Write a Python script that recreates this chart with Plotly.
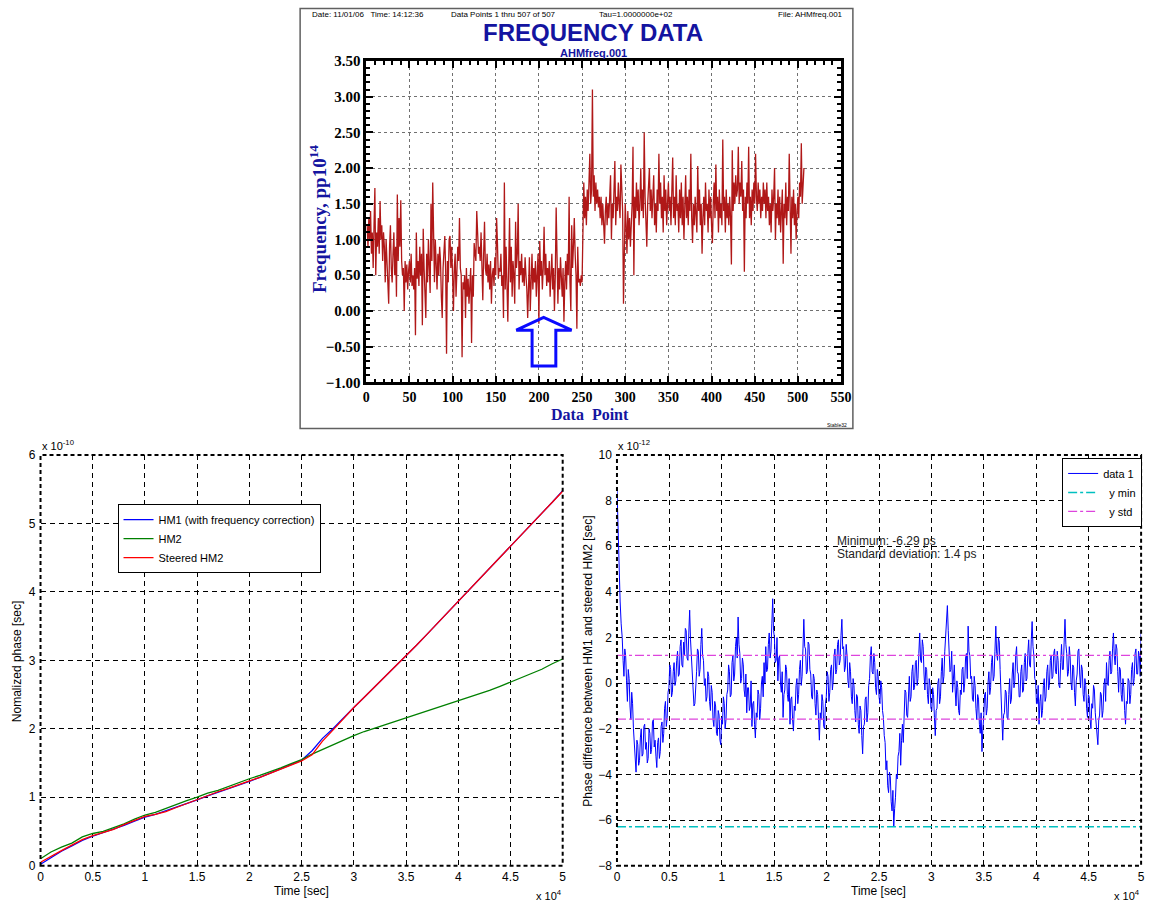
import plotly.graph_objects as go

# ---------------- data ----------------
# Top: Stable32 frequency data (pp10^14), data points 1..507
freq = [
    1.2, 0.9, 1.3, 1.0, 1.4, 0.8, 1.1, 0.6, 1.2, 1.72,
    0.5, 1.1, 0.9, 1.3, 0.8, 1.54, 1.0, 1.2, 0.7, 1.1,
    0.9, 0.4, 1.0, 0.6, 0.3, 0.1, 0.9, 1.2, 0.6, 0.4,
    0.8, 1.1, 0.5, 0.9, 0.2, 1.63, 0.7, 1.3, 0.9, 1.55,
    0.7, 0.5, 0.6, 0.0, 0.7, 0.4, 0.65, 0.3, 0.55, 0.7,
    0.4, 0.8, 0.35, 0.5, 0.3, 0.6, -0.34, 1.1, 0.45, 0.7,
    0.35, 0.9, 0.5, 0.8, -0.2, 1.15, 0.6, 0.3, -0.1, 0.8,
    0.4, 1.0, 0.55, 0.25, 1.5, 0.7, 1.8, 0.9, 0.4, 1.0,
    0.6, 0.3, 0.8, 0.5, 0.9, 0.7, 0.2, -0.1, 0.6, 0.9,
    1.05, 0.55, -0.6, 0.7, 0.4, 1.0, 1.05, 0.6, 0.9, 0.5,
    0.0, 0.6, 0.8, 0.2, 0.5, 0.9, 0.7, 1.3, 0.6, 0.5,
    -0.65, 0.4, 0.3, 0.5, -0.1, 0.6, 0.2, 0.45, 0.1, 0.35,
    0.6, -0.45, 0.5, 0.2, 0.95, 0.8, 0.7, 1.4, 1.0, 0.8,
    0.9, 0.7, 1.1, 0.5, 0.15, 0.8, 1.25, 0.6, 0.5, 0.8,
    0.4, 0.65, 0.3, 0.7, 0.1, 0.5, 0.6, 0.35, 0.75, 0.5,
    1.3, 0.94, 0.45, 0.6, 0.55, 0.8, 0.35, 0.5, -0.1, 1.8,
    0.3, 0.9, 0.5, -0.15, 0.6, 1.3, 0.4, 0.9, 0.2, 0.7,
    0.5, 0.1, 1.25, 0.6, 0.8, 1.5, 0.3, 0.7, 0.5, 0.8,
    0.4, 0.6, 0.35, 0.75, 0.5, 0.3, -0.1, 0.6, 0.75, 0.0,
    0.5, 0.8, 0.3, 0.6, 0.4, 0.7, 0.2, 0.5, 0.8, -0.18,
    0.98, 0.5, 0.7, 0.3, 0.6, 1.18, 0.5, 0.8, 0.35, 0.6,
    0.4, 0.7, 0.2, 0.5, 0.8, 0.3, 0.6, 0.0, 0.5, 1.45,
    0.4, 0.1, 0.6, 0.3, 0.75, 0.5, 0.2, 0.6, -0.15, 0.4,
    0.7, 0.3, 0.8, 0.5, 1.6, 0.4, 0.0, 1.2, 0.6, 0.9,
    1.3, 0.8, 0.5, -0.25, 0.9, 0.4, 0.45, 0.35, 0.5, 0.4,
    1.49, 1.8, 1.3, 1.6, 1.2, 1.7, 1.4, 1.8, 2.2, 1.5,
    1.7, 3.1, 1.6, 1.9, 1.4, 1.8, 1.5, 1.7, 1.45, 1.6,
    1.3, 1.6, 1.2, 1.5, 1.25, 0.94, 1.4, 1.6, 1.2, 1.5,
    1.3, 1.7, 1.9, 1.0, 1.5, 1.3, 1.6, 2.1, 1.2, 1.6,
    1.4, 1.8, 1.5, 1.3, 2.05, 1.6, 1.4, 0.1, 1.3, 1.5,
    1.2, 0.8, 1.4, 1.0, 1.3, 0.9, 1.2, 1.5, 2.3, 0.5,
    1.6, 1.3, 1.8, 1.4, 1.7, 1.2, 1.5, 2.0, 1.4, 1.7,
    1.3, 2.5, 1.6, 1.2, 0.9, 1.5, 1.8, 2.0, 1.4, 1.7,
    1.3, 1.6, 1.9, 1.2, 1.5, 1.1, 1.7, 1.4, 2.2, 1.5,
    1.8, 1.3, 1.6, 1.1, 1.9, 1.4, 1.7, 1.2, 1.5, 1.8,
    1.4, 1.6, 1.2, 1.7, 2.15, 1.3, 1.6, 1.2, 1.9, 1.4,
    1.5, 1.1, 1.7, 1.3, 1.8, 1.2, 1.6, 1.0, 1.5, 1.9,
    1.3, 1.6, 1.2, 1.7, 1.4, 2.2, 1.3, 0.95, 1.5, 1.2,
    1.6, 1.3, 1.1, 2.03, 1.4, 1.7, 1.2, 1.5, 0.8, 1.3,
    1.6, 1.2, 1.8, 1.4, 1.5, 1.1, 1.7, 1.3, 1.6, 1.2,
    0.95, 1.5, 1.8, 1.3, 2.05, 1.4, 1.6, 1.1, 1.7, 1.3,
    1.5, 1.2, 2.4, 1.4, 1.6, 1.1, 1.7, 1.3, 1.5, 1.2,
    1.6, 1.3, 0.65, 2.25, 1.4, 1.8, 1.5, 1.9, 1.6, 1.7,
    2.3, 1.5, 1.8, 1.6, 2.1, 1.4, 1.7, 0.55, 1.6, 1.3,
    1.8, 1.5, 2.3, 1.3, 1.6, 1.2, 1.7, 1.4, 1.8, 1.5,
    2.2, 1.6, 1.4, 1.8, 1.5, 1.7, 1.3, 1.6, 1.4, 1.8,
    1.5, 1.7, 1.3, 1.8, 1.4, 1.6, 1.2, 1.5, 1.1, 1.7,
    1.4, 1.6, 2.0, 1.0, 1.5, 1.3, 1.7, 1.2, 1.6, 1.1,
    1.4, 1.7, 0.66, 1.5, 1.3, 1.8, 1.2, 1.6, 1.4, 2.2,
    1.5, 0.8, 1.6, 1.3, 1.7, 1.2, 1.5, 1.0, 1.4, 1.6,
    1.3, 1.8, 1.6, 2.35, 1.5, 1.9, 2.0,
]
data_point = list(range(1, len(freq) + 1))
top_xticks = [0, 50, 100, 150, 200, 250, 300, 350, 400, 450, 500, 550]
top_yticks = [-1.0, -0.5, 0.0, 0.5, 1.0, 1.5, 2.0, 2.5, 3.0, 3.5]

# Bottom-left: normalized phase (x 1e-10 s) vs time (x 1e4 s)
bl_time = [0.0, 0.1, 0.2, 0.3, 0.4, 0.5, 0.6, 0.7, 0.8, 0.9,
           1.0, 1.1, 1.2, 1.3, 1.4, 1.5, 1.6, 1.7, 1.8, 1.9,
           2.0, 2.1, 2.2, 2.3, 2.4, 2.5, 2.6, 2.7, 2.8, 2.9,
           3.0, 3.1, 3.2, 3.3, 3.4, 3.5, 3.6, 3.7, 3.8, 3.9,
           4.0, 4.1, 4.2, 4.3, 4.4, 4.5, 4.6, 4.7, 4.8, 4.9, 5.0]
hm1 = [0.02, 0.12, 0.21, 0.29, 0.37, 0.43, 0.48, 0.53, 0.59, 0.65,
       0.71, 0.75, 0.80, 0.85, 0.90, 0.96, 1.02, 1.07, 1.12, 1.18,
       1.23, 1.29, 1.35, 1.41, 1.47, 1.54, 1.68, 1.86, 2.00, 2.16,
       2.31, 2.46, 2.61, 2.77, 2.92, 3.07, 3.22, 3.38, 3.54, 3.70,
       3.86, 4.02, 4.18, 4.34, 4.50, 4.66, 4.82, 4.98, 5.14, 5.31, 5.48]
hm2 = [0.10, 0.20, 0.27, 0.33, 0.42, 0.47, 0.50, 0.55, 0.61, 0.68,
       0.74, 0.78, 0.84, 0.89, 0.95, 1.00, 1.06, 1.10, 1.16, 1.22,
       1.27, 1.32, 1.37, 1.43, 1.49, 1.55, 1.63, 1.70, 1.77, 1.84,
       1.90, 1.96, 2.01, 2.06, 2.11, 2.16, 2.21, 2.25, 2.30, 2.35,
       2.40, 2.45, 2.50, 2.56, 2.62, 2.68, 2.74, 2.80, 2.87, 2.95, 3.02]
steered = [0.05, 0.14, 0.22, 0.30, 0.38, 0.44, 0.49, 0.53, 0.60, 0.66,
           0.72, 0.75, 0.79, 0.85, 0.91, 0.97, 1.03, 1.08, 1.13, 1.19,
           1.24, 1.29, 1.35, 1.41, 1.47, 1.53, 1.62, 1.82, 1.98, 2.15,
           2.31, 2.46, 2.61, 2.76, 2.91, 3.06, 3.22, 3.38, 3.54, 3.70,
           3.86, 4.02, 4.18, 4.34, 4.50, 4.66, 4.82, 4.98, 5.14, 5.30, 5.47]

# Bottom-right: phase difference (x 1e-12 s) vs time (x 1e4 s)
br_head_time = [0.0, 0.01, 0.02, 0.03, 0.04]
br_head_val = [8.6, 7.0, 4.5, 3.6, 2.6]
br_step = 0.00825
br_vals = [
    2.0, 1.0, 0.3, 1.5, 1.2, 0.1, -0.8, 0.6, 0.2, -1.0, -1.6, -0.4, -0.9, -2.0, -2.8, -3.4, -3.9, -2.5, -2.7, -3.6,
    -3.4, -2.4, -2.0, -3.2, -3.1, -1.9, -1.8, -2.9, -2.6, -3.5, -3.3, -2.0, -2.2, -3.1, -2.9, -1.7, -1.6, -2.8, -2.5, -3.2,
    -3.7, -2.6, -2.4, -3.3, -3.0, -1.9, -1.7, -2.6, -2.2, -1.1, -0.8, -1.9, -1.5, -0.4, -0.2, 0.8, 0.6, -0.6, -0.4, 0.5,
    0.9, -0.1, 0.1, 1.0, 1.4, 0.3, 0.4, 1.6, 1.9, 0.8, 0.7, 1.8, 1.2, 2.4, 2.3, 1.1, 1.0, 2.2, 3.2, 1.9,
    1.1, 0.2, 0.0, -1.0, -0.9, 0.3, 0.5, 1.5, 1.4, 0.3, 0.6, 1.7, 2.4, 1.2, 1.0, -0.1, 0.2, -0.8, -0.6, 0.5,
    0.3, -0.8, -1.2, -0.1, -0.4, -1.6, -1.9, -0.8, -1.0, -2.2, -2.3, -1.2, -1.4, -2.5, -2.7, -1.5, -1.8, -0.6, -0.9, -2.0,
    -1.6, -0.5, -0.3, 0.8, 0.5, -0.6, -0.5, 0.9, 1.2, 0.1, 0.4, 1.6, 2.0, 1.1, 2.9, 1.7, 1.3, 0.0, 0.2, 1.1,
    0.8, -0.3, -0.6, 0.4, -1.3, -0.2, -0.2, -1.2, -1.0, 0.1, -1.9, -0.9, -0.8, -1.8, -2.4, -1.3, -1.5, -0.3, -0.5, -1.6,
    -1.1, 0.0, 0.3, -0.6, 0.9, 0.0, 1.6, 0.5, 0.6, 1.7, 2.2, 1.1, 1.4, 2.6, 3.7, 2.3, 2.0, 0.9, 1.0, 2.0,
    0.1, 1.1, 1.2, 0.0, -0.4, 0.5, -1.5, -0.5, -0.3, 0.8, 0.6, -0.5, -0.8, 0.2, -1.8, -0.7, -0.6, -1.6, -2.1, -1.0,
    -1.2, -0.1, 0.2, -0.9, -0.5, 0.6, 1.0, -0.1, 0.3, 1.5, 2.8, 1.6, 1.5, 0.4, 0.5, 1.8, 1.7, 0.6, 0.4, -0.6,
    -0.7, 0.4, 0.2, -0.9, -1.4, -0.3, -0.5, -1.6, -2.5, -1.3, -1.6, -0.5, -0.8, -1.9, -2.0, -0.9, -0.6, 0.5, 0.3, -0.8,
    -0.4, 0.6, 0.8, -0.3, 0.1, 1.2, 1.5, 0.4, 0.6, 1.7, 1.9, 0.8, 1.0, 2.1, 2.8, 1.5, 1.6, 0.5, 0.7, 1.7,
    1.2, 0.1, -0.2, 0.9, 0.5, -0.6, -0.9, 0.2, -0.1, -1.2, -1.7, -0.5, -0.6, -1.8, -2.2, -1.0, -1.2, -2.3, -3.1, -1.9,
    -1.8, -0.7, -0.6, -1.7, -1.3, -0.1, 0.2, 1.2, 1.6, 0.5, 0.4, 1.3, 0.9, -0.2, -0.5, 0.6, 0.3, -0.6, -0.9, 0.1,
    -0.2, -1.2, -1.5, -2.3, -2.6, -3.8, -3.4, -4.5, -4.8, -3.9, -4.1, -5.2, -5.6, -4.7, -6.29, -5.5, -5.0, -4.0, -4.2, -3.2,
    -3.0, -2.2, -3.6, -2.5, -1.8, -2.6, -1.2, -0.3, -0.4, -1.4, -1.5, -0.4, 0.3, -0.8, -0.6, 0.5, 0.8, -0.3, -0.2, 0.9,
    1.0, -0.1, 0.2, 1.3, 2.2, 1.0, 0.9, 1.9, 1.6, 0.4, -0.3, 0.7, 0.6, -0.5, -0.9, 0.2, -0.1, -1.1, -1.2, -0.2,
    -0.5, -1.5, -2.3, -1.2, -1.1, 0.0, 0.2, -0.9, -0.6, 0.5, 1.1, 0.0, 0.3, 1.4, 2.2, 3.0, 3.4, 2.3, 1.5, 0.5,
    0.6, 1.4, -0.4, 0.5, 0.8, -0.3, -1.0, 0.1, -0.2, -1.2, -1.4, -0.3, -0.5, 0.6, 0.7, -0.4, 0.0, 1.1, 1.3, 0.2,
    2.5, 1.4, 1.2, 0.2, 0.3, -0.7, -0.8, 0.3, -0.1, -1.1, -1.6, -0.5, -0.7, -1.8, -2.2, -1.3, -3.0, -2.0, -1.5, -0.5,
    -0.4, -1.4, -1.1, 0.0, 0.5, -0.5, -0.2, 0.9, 1.2, 0.1, 0.3, 1.4, 2.5, 1.3, 1.0, 2.0, 1.8, 0.6, -0.5, -1.5,
    -2.5, -1.4, -1.3, -0.3, -0.4, -1.5, -1.6, -0.5, 0.2, -0.9, -0.7, 0.4, 0.9, -0.2, 0.1, 1.2, 1.6, 0.5, 0.4, -0.6,
    -0.6, 0.5, 0.8, -0.4, -0.3, 0.9, 1.3, 0.1, 0.2, 1.3, 1.9, 0.8, 0.7, 1.9, 2.7, 1.6, 1.2, 0.2, 0.1, -0.9,
    -0.9, -0.1, -1.8, -0.8, -0.5, -1.5, -1.2, -0.1, 0.2, -0.8, -0.6, 0.5, 0.8, -0.3, -0.1, 1.0, 1.2, 0.2, 0.3, 1.3,
    1.5, 0.5, 0.4, 1.4, 1.0, -0.1, -0.2, 0.9, 1.7, 0.6, 0.6, 1.8, 2.8, 1.7, 1.3, 0.3, 0.5, 1.6, 1.1, 0.0,
    -0.3, 0.8, 0.7, -0.4, -1.0, 0.1, 0.4, 1.4, 1.5, 0.4, -0.2, 0.8, 0.6, -0.5, -0.8, 0.2, -0.1, -1.1, -1.5, -0.5,
    -0.6, -1.6, -2.0, -0.9, -1.1, -0.1, -0.3, -1.3, -1.7, -2.2, -2.7, -1.6, -1.4, -0.4, -0.5, -1.5, -1.2, -0.1, 0.2, -0.8,
    0.9, 0.0, -0.1, 1.0, 1.4, 0.4, 0.5, 1.5, 2.2, 1.2, 0.8, 1.7, 1.5, 0.5, -0.4, 0.7, 0.6, -0.5, -0.8, 0.2,
    -0.2, -1.2, -1.8, -0.8, -0.9, 0.2, 0.1, -0.9, -0.5, 0.6, 0.9, -0.1, 0.2, 1.3, 1.5, 0.4, 0.4, 1.4, 1.2, 0.3,
    2.2,
]
br_time = br_head_time + [round(0.05 + br_step * i, 5) for i in range(len(br_vals))]
br_phase = br_head_val + br_vals
y_min = -6.29
y_std_hi = 1.22
y_std_lo = -1.58
bottom_xticks = [0, 0.5, 1, 1.5, 2, 2.5, 3, 3.5, 4, 4.5, 5]

# ---------------- helpers ----------------
W, H = 1160, 911
def px(x):
    return x / W
def py(y):
    return 1 - y / H

BLUE_T = "#1414a0"
SERIF = "Liberation Serif"
SANS = "Liberation Sans"

fig = go.Figure()

# top chart
fig.add_trace(go.Scatter(x=data_point, y=freq, mode="lines",
                         line=dict(color="#b01818", width=1.3),
                         xaxis="x", yaxis="y", showlegend=False, hoverinfo="skip"))

# bottom-left
fig.add_trace(go.Scatter(x=bl_time, y=hm1, mode="lines", name="HM1 (with frequency correction)",
                         line=dict(color="#0000ff", width=1.3), xaxis="x2", yaxis="y2", legend="legend"))
fig.add_trace(go.Scatter(x=bl_time, y=hm2, mode="lines", name="HM2",
                         line=dict(color="#008000", width=1.3), xaxis="x2", yaxis="y2", legend="legend"))
fig.add_trace(go.Scatter(x=bl_time, y=steered, mode="lines", name="Steered HM2",
                         line=dict(color="#ff0000", width=1.3), xaxis="x2", yaxis="y2", legend="legend"))

# bottom-right
fig.add_trace(go.Scatter(x=br_time, y=br_phase, mode="lines", name="data 1",
                         line=dict(color="#0000ff", width=1), xaxis="x3", yaxis="y3", legend="legend2"))
fig.add_trace(go.Scatter(x=[0, 5], y=[y_min, y_min], mode="lines", name="  y min",
                         line=dict(color="#00c0c0", width=1.5, dash="dashdot"),
                         xaxis="x3", yaxis="y3", legend="legend2"))
fig.add_trace(go.Scatter(x=[0, 5, None, 0, 5], y=[y_std_hi, y_std_hi, None, y_std_lo, y_std_lo],
                         mode="lines", name="  y std",
                         line=dict(color="#dd44dd", width=1.2, dash="dashdot"),
                         xaxis="x3", yaxis="y3", legend="legend2"))

grid_dash = "5px,4px"
bottom_common = dict(showgrid=True, gridcolor="black", griddash=grid_dash, gridwidth=1,
                     zeroline=False, showline=False, ticks="",
                     tickfont=dict(family=SANS, size=12, color="black"))

fig.update_layout(
    width=W, height=H, autosize=False,
    margin=dict(l=0, r=0, t=0, b=0),
    paper_bgcolor="white", plot_bgcolor="white",
    xaxis=dict(domain=[px(367), px(848)], anchor="y", range=[0, 550],
               tickvals=top_xticks, showgrid=True, gridcolor="#707070", griddash="dot",
               zeroline=False, showline=True, linecolor="black", linewidth=2.5, mirror="allticks",
               ticks="inside", ticklen=7, tickwidth=1.5, tickcolor="black",
               minor=dict(dtick=10, ticks="inside", ticklen=4, tickcolor="black", showgrid=False),
               tickfont=dict(family=SERIF, size=14, color="black", weight="bold")),
    yaxis=dict(domain=[py(381), py(54)], anchor="x", range=[-1, 3.5],
               tickvals=top_yticks, tickformat=".2f", showgrid=True, gridcolor="#707070", griddash="dot",
               zeroline=False, showline=True, linecolor="black", linewidth=2.5, mirror="allticks",
               ticks="inside", ticklen=7, tickwidth=1.5, tickcolor="black",
               minor=dict(dtick=0.1, ticks="inside", ticklen=4, tickcolor="black", showgrid=False),
               tickfont=dict(family=SERIF, size=15, color="black", weight="bold")),
    xaxis2=dict(domain=[px(37), px(566)], anchor="y2", range=[0, 5], tickvals=bottom_xticks,
                ticklabelstandoff=2, **bottom_common),
    yaxis2=dict(domain=[py(873), py(455)], anchor="x2", range=[0, 6], dtick=1,
                ticklabelstandoff=4, **bottom_common),
    xaxis3=dict(domain=[px(621), px(1152)], anchor="y3", range=[0, 5], tickvals=bottom_xticks,
                ticklabelstandoff=2, **bottom_common),
    yaxis3=dict(domain=[py(873), py(455)], anchor="x3", range=[-8, 10], dtick=2,
                ticklabelstandoff=4, **bottom_common),
    legend=dict(x=px(115), y=py(505), xanchor="left", yanchor="top", bgcolor="white",
                bordercolor="black", borderwidth=1, font=dict(family=SANS, size=11, color="black"),
                itemwidth=30, tracegroupgap=0),
    legend2=dict(x=px(1072), y=py(458), xanchor="left", yanchor="top", bgcolor="white",
                 bordercolor="black", borderwidth=1, font=dict(family=SANS, size=11, color="black"),
                 itemwidth=30, tracegroupgap=0),
)

shapes = [
    # frame around the top (Stable32) picture
    dict(type="rect", xref="paper", yref="paper", x0=px(300), x1=px(860), y0=py(428), y1=py(0.5),
         line=dict(color="#606060", width=1.5)),
    # dashed axes boxes
    dict(type="rect", xref="x2 domain", yref="y2 domain", x0=0, x1=1, y0=0, y1=1,
         line=dict(color="black", width=2, dash="4px,3px")),
    dict(type="rect", xref="x3 domain", yref="y3 domain", x0=0, x1=1, y0=0, y1=1,
         line=dict(color="black", width=2, dash="4px,3px")),
    # hollow blue arrow
    dict(type="path", xref="x", yref="y",
         path="M 173.8,-0.27 L 205.5,-0.09 L 237.9,-0.27 L 219.6,-0.27 L 219.6,-0.77 "
              "L 192.1,-0.77 L 192.1,-0.27 Z",
         line=dict(color="#0a0aff", width=3), fillcolor="rgba(0,0,0,0)"),
]
fig.update_layout(shapes=shapes)

ann = []
def add_text(text, x, y, size, color="black", family=SANS, xanchor="center", yanchor="middle",
             angle=0, weight="normal"):
    ann.append(dict(text=text, x=px(x), y=py(y), xref="paper", yref="paper", showarrow=False,
                    xanchor=xanchor, yanchor=yanchor, textangle=angle, borderpad=0,
                    font=dict(family=family, size=size, color=color, weight=weight)))

# top header
add_text("Date: 11/01/06   Time: 14:12:36", 311, 7, 8, xanchor="left")
add_text("Data Points 1 thru 507 of 507", 506, 7, 8)
add_text("Tau=1.0000000e+02", 640, 7, 8)
add_text("File: AHMfreq.001", 851, 7, 8, xanchor="right")
add_text("FREQUENCY DATA", 597, 25, 24, color=BLUE_T, weight="bold")
add_text("AHMfreq.001", 597, 46, 11, color=BLUE_T, weight="bold")
add_text("Data  Point", 594, 414, 16, color=BLUE_T, family=SERIF, weight="bold")
add_text("Frequency, pp10<sup>14</sup>", 318, 215, 19, color=BLUE_T, family=SERIF,
         weight="bold", angle=-90)
add_text("Stable32", 855, 424, 5, xanchor="right")

# bottom-left
add_text("x 10<sup>-10</sup>", 37, 445, 11, xanchor="left")
add_text("Time [sec]", 301, 899, 12)
add_text("x 10<sup>4</sup>", 566, 903, 11, xanchor="right")
add_text("Nomalized phase [sec]", 14, 665, 12, angle=-90)

# bottom-right
add_text("x 10<sup>-12</sup>", 621, 445, 11, xanchor="left")
add_text("Time [sec]", 886, 899, 12)
add_text("x 10<sup>4</sup>", 1152, 903, 11, xanchor="right")
add_text("Phase difference between HM1 and steered HM2 [sec]", 592, 665, 12, angle=-90)
add_text("Minimum: -6.29 ps", 843, 543, 12, color="#222222", xanchor="left")
add_text("Standard deviation: 1.4 ps", 843, 556, 12, color="#222222", xanchor="left")

fig.update_layout(annotations=ann)

fig.write_html("out.html")
